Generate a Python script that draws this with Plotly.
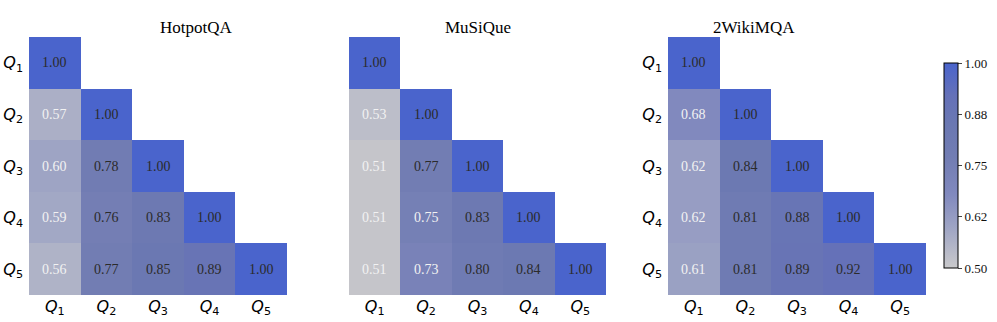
import plotly.graph_objects as go

DATASETS = ["HotpotQA", "MuSiQue", "2WikiMQA"]
LABELS = ["<i>Q</i><sub>1</sub>", "<i>Q</i><sub>2</sub>", "<i>Q</i><sub>3</sub>",
          "<i>Q</i><sub>4</sub>", "<i>Q</i><sub>5</sub>"]

# lower-triangle rows, Q1..Q5
HOTPOT = [
    [1.00],
    [0.57, 1.00],
    [0.60, 0.78, 1.00],
    [0.59, 0.76, 0.83, 1.00],
    [0.56, 0.77, 0.85, 0.89, 1.00],
]
MUSIQUE = [
    [1.00],
    [0.53, 1.00],
    [0.51, 0.77, 1.00],
    [0.51, 0.75, 0.83, 1.00],
    [0.51, 0.73, 0.80, 0.84, 1.00],
]
WIKI2 = [
    [1.00],
    [0.68, 1.00],
    [0.62, 0.84, 1.00],
    [0.62, 0.81, 0.88, 1.00],
    [0.61, 0.81, 0.89, 0.92, 1.00],
]
CBAR_TICKS = [0.5, 0.625, 0.75, 0.875, 1.0]
CBAR_TEXT = ["0.50", "0.62", "0.75", "0.88", "1.00"]

SCALE = [
    [0.0, "#c9c9cb"],
    [0.2, "#9ea4c4"],
    [0.36, "#8189be"],
    [0.54, "#727db3"],
    [0.7, "#6b78b2"],
    [0.84, "#6571b8"],
    [1.0, "#4a64cc"],
]

SERIF = "Liberation Serif"
SANS = "DejaVu Sans"

domains = [(29 / 997, 287 / 997), (349 / 997, 606 / 997), (668 / 997, 926 / 997)]
ydom = [27 / 322, 285 / 322]

fig = go.Figure()
annotations = []
for i, (name, rows) in enumerate(zip(DATASETS, [HOTPOT, MUSIQUE, WIKI2])):
    n = len(rows)
    z = [r + [None] * (n - len(r)) for r in rows]
    xa = "x" if i == 0 else f"x{i + 1}"
    ya = "y" if i == 0 else f"y{i + 1}"
    fig.add_trace(go.Heatmap(
        z=z, x=list(range(n)), y=list(range(n)),
        coloraxis="coloraxis", xaxis=xa, yaxis=ya, hoverongaps=False,
    ))
    for r, row in enumerate(rows):
        for c, v in enumerate(row):
            annotations.append(dict(
                x=c, y=r, xref=xa, yref=ya, text=f"{v:.2f}", showarrow=False,
                font=dict(family=SERIF, size=14,
                          color="#f2f2f2" if v < 0.755 else "#2b2b2b"),
            ))
    annotations.append(dict(
        x=(domains[i][0] + domains[i][1]) / 2, y=1 - 16 / 322, xref="paper", yref="paper",
        text=name, showarrow=False, font=dict(family=SERIF, size=17, color="black"),
    ))
    sfx = "" if i == 0 else str(i + 1)
    fig.layout["xaxis" + sfx] = dict(
        domain=list(domains[i]), anchor=ya, range=[-0.5, n - 0.5],
        tickvals=list(range(n)), ticktext=LABELS, showgrid=False, zeroline=False,
        showline=False, ticks="", tickfont=dict(family=SANS, size=16, color="black"),
        fixedrange=True,
    )
    fig.layout["yaxis" + sfx] = dict(
        domain=ydom, anchor=xa, range=[n - 0.5, -0.5],
        tickvals=list(range(n)), ticktext=LABELS if i != 1 else [""] * n,
        showgrid=False, zeroline=False, showline=False, ticks="",
        ticklabelstandoff=5,
        tickfont=dict(family=SANS, size=16, color="black"), fixedrange=True,
    )

fig.update_layout(
    width=997, height=322,
    margin=dict(l=0, r=0, t=0, b=0),
    paper_bgcolor="white", plot_bgcolor="white",
    annotations=annotations,
    coloraxis=dict(
        cmin=0.5, cmax=1.0, colorscale=SCALE,
        colorbar=dict(
            x=944 / 997, xanchor="left", y=1 - 165.5 / 322, yanchor="middle",
            lenmode="pixels", len=205, thickness=14, outlinewidth=1, outlinecolor="black",
            tickvals=CBAR_TICKS, ticktext=CBAR_TEXT, ticks="outside", ticklen=4,
            tickfont=dict(family=SERIF, size=13, color="#111"), xpad=0, ypad=0,
        ),
    ),
    showlegend=False,
)

fig.write_html(
    "out.html",
    config={"displayModeBar": False},
    post_script="document.body.style.margin='0';document.body.style.overflow='hidden';",
)
